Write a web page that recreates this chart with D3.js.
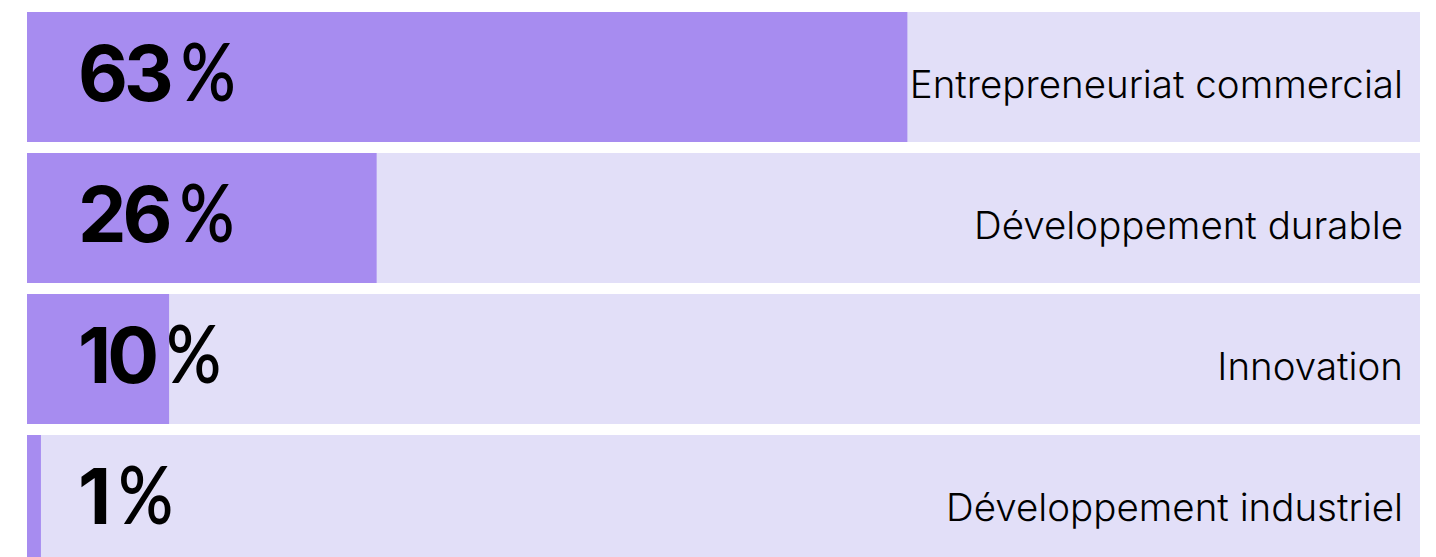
<!DOCTYPE html>
<html>
<head>
<meta charset="utf-8">
<script src="https://cdn.jsdelivr.net/npm/d3@7"></script>
<style>
html, body { margin:0; padding:0; background:#fff; }
</style>
</head>
<body>
<div id="chart"></div>
<script>
(function(){

var width = 1436,
	height = 557;

// data
var categories = ["Entrepreneuriat commercial", "Développement durable", "Innovation", "Développement industriel"];
var labels = [63, 26, 10, 1];           // printed percentages
var shares = [63.2, 25.1, 10.2, 1.0];   // bar lengths as measured on the picture

var svg = d3.select("#chart").append("svg")
	.attr("width", width)
	.attr("height", height);

var X = d3.scaleLinear().domain([0,100]).range([27,1420]);
// step 141, bar 130, gap 11
var Y = d3.scaleBand().domain(categories).range([6.5, 6.5+141*4])
	.paddingInner(11/141).paddingOuter(11/282);

var rows = svg.selectAll(".row").data(categories).enter().append("g")
	.attr("class","row")
	.attr("transform", function(d){ return "translate(0,"+Y(d)+")"; });

// background track
rows.append("rect")
	.attr("x", X(0))
	.attr("width", X(100)-X(0))
	.attr("height", Y.bandwidth())
	.style("fill", "#e2dff8");

// value bar
rows.append("rect")
	.attr("x", X(0))
	.attr("width", function(d,i){ return X(shares[i])-X(0); })
	.attr("height", Y.bandwidth())
	.style("fill", "#a78cf0");

// percent number
var num = rows.append("text")
	.attr("x", 78)
	.attr("y", 89)
	.style("font-family", "Inter")
	.style("font-weight", 700)
	.style("font-size", "77px")
	.style("letter-spacing", "-4px")
	.style("fill", "#000")
	.text(function(d,i){ return labels[i]; });

// percent sign
rows.append("text")
	.attr("x", function(d,i){ return 78 + num.nodes()[i].getComputedTextLength() + 11; })
	.attr("y", 89)
	.attr("textLength", 55)
	.attr("lengthAdjust", "spacingAndGlyphs")
	.style("font-family", "Lato")
	.style("font-weight", 600)
	.style("font-size", "80px")
	.style("fill", "#000")
	.text("%");

// category label
rows.append("text")
	.attr("x", 1403)
	.attr("y", 85.5)
	.attr("text-anchor", "end")
	.style("font-family", "Inter")
	.style("font-weight", 300)
	.style("font-size", "38.5px")
	.style("fill", "#000")
	.text(function(d){ return d; });

})()
</script>
</body>
</html>
